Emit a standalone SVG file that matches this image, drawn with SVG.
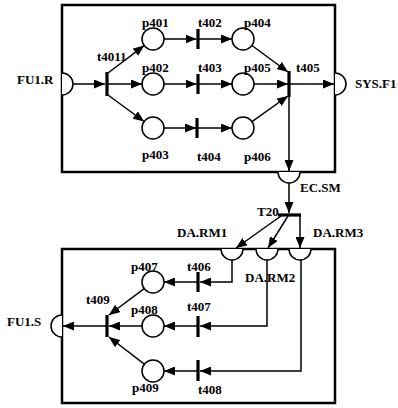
<svg xmlns="http://www.w3.org/2000/svg" width="398" height="408" viewBox="0 0 398 408">
<defs>
<marker id="ah" viewBox="0 0 10 10" refX="10" refY="5" markerWidth="11" markerHeight="9" markerUnits="userSpaceOnUse" orient="auto" preserveAspectRatio="none"><path d="M0,0 L10,5 L0,10 z" fill="#000"/></marker>
<style>
.box{fill:none;stroke:#000;stroke-width:2.5}
.pl{fill:#fff;stroke:#000;stroke-width:1.5}
.tr{stroke:#000;stroke-width:3.2;fill:none}
.port{fill:#fff;stroke:#000;stroke-width:1.5}
.c{fill:none;stroke:#000;stroke-width:1.5}
.a{marker-end:url(#ah)}
text{font-family:"Liberation Serif","Times New Roman",serif;font-weight:bold;font-size:13px;fill:#000}
</style>
</defs>
<rect width="398" height="408" fill="#fff"/>
<g id="boxes">
<rect class="box" x="62" y="5" width="273" height="167"/>
<rect class="box" x="62" y="249" width="273" height="154"/>
</g>
<g id="connectors">
<path class="c a" d="M73,84 L105,84"/>
<path class="c a" d="M108,73 L144.2,45.6"/>
<path class="c a" d="M108,84 L142,84"/>
<path class="c a" d="M108,95 L144.1,121.5"/>
<path class="c a" d="M164,39 L196.5,39"/>
<path class="c a" d="M199,39 L232,39"/>
<path class="c a" d="M164,84 L196.5,84"/>
<path class="c a" d="M199,84 L232,84"/>
<path class="c a" d="M164,128 L196,128"/>
<path class="c a" d="M198,128 L232,128"/>
<path class="c a" d="M251.9,45.5 L288,72"/>
<path class="c a" d="M254,84 L288,84"/>
<path class="c a" d="M252,121.6 L288,96"/>
<path class="c a" d="M290,84 L334,84"/>
<path class="c a" d="M289,96 L289,171"/>
<path class="c a" d="M289,183 L289,213"/>
<path class="c a" d="M281,216 L236,248"/>
<path class="c a" d="M288,216 L268,248"/>
<path class="c a" d="M300,215 L300,248"/>
<path class="c a" d="M232,260 L232,282 L200,282"/>
<path class="c a" d="M267,260 L267,326 L200,326"/>
<path class="c a" d="M301,260 L301,371 L200,371"/>
<path class="c a" d="M197,282 L164,282"/>
<path class="c a" d="M197,326 L164,326"/>
<path class="c a" d="M197,371 L164,371"/>
<path class="c a" d="M144.2,288.6 L109,315"/>
<path class="c a" d="M142,326 L109,326"/>
<path class="c a" d="M144.4,364.2 L109,337"/>
<path class="c a" d="M106,326 L63,326"/>
</g>
<g id="FU1.R"><path class="port" d="M62,73 A11,11 0 0 1 62,95"/><text x="17" y="84">FU1.R</text></g>
<g id="SYS.F1"><path class="port" d="M335,73 A11,11 0 0 1 335,95"/><text x="355" y="88">SYS.F1</text></g>
<g id="EC.SM"><path class="port" d="M278,172 A11,11 0 0 0 300,172"/><text x="300" y="192">EC.SM</text></g>
<g id="DA.RM1"><path class="port" d="M221,249 A11,11 0 0 0 243,249"/><text x="177" y="237">DA.RM1</text></g>
<g id="DA.RM2"><path class="port" d="M256,249 A11,11 0 0 0 278,249"/><text x="245" y="282">DA.RM2</text></g>
<g id="DA.RM3"><path class="port" d="M289,249 A11,11 0 0 0 311,249"/><text x="313" y="237">DA.RM3</text></g>
<g id="FU1.S"><path class="port" d="M62,315 A11,11 0 0 0 62,337"/><text x="7" y="326">FU1.S</text></g>
<g id="t4011"><line class="tr" x1="107" y1="72" x2="107" y2="96"/><text x="97" y="61">t4011</text></g>
<g id="p401"><circle class="pl" cx="153" cy="39" r="11"/><text x="142" y="27">p401</text></g>
<g id="p402"><circle class="pl" cx="153" cy="84" r="11"/><text x="142" y="72">p402</text></g>
<g id="p403"><circle class="pl" cx="153" cy="128" r="11"/><text x="142" y="159">p403</text></g>
<g id="t402"><line class="tr" x1="198" y1="29" x2="198" y2="49"/><text x="198" y="27">t402</text></g>
<g id="t403"><line class="tr" x1="198" y1="74" x2="198" y2="94"/><text x="198" y="72">t403</text></g>
<g id="t404"><line class="tr" x1="197" y1="118" x2="197" y2="138"/><text x="197" y="161">t404</text></g>
<g id="p404"><circle class="pl" cx="243" cy="39" r="11"/><text x="244" y="27">p404</text></g>
<g id="p405"><circle class="pl" cx="243" cy="84" r="11"/><text x="244" y="72">p405</text></g>
<g id="p406"><circle class="pl" cx="243" cy="128" r="11"/><text x="244" y="161">p406</text></g>
<g id="t405"><line class="tr" x1="289" y1="71" x2="289" y2="97"/><text x="296" y="72">t405</text></g>
<g id="T20"><line class="tr" x1="278" y1="215" x2="301" y2="215"/><text x="257" y="216">T20</text></g>
<g id="t406"><line class="tr" x1="198" y1="272" x2="198" y2="292"/><text x="187" y="271">t406</text></g>
<g id="t407"><line class="tr" x1="198" y1="316" x2="198" y2="337"/><text x="187" y="311">t407</text></g>
<g id="t408"><line class="tr" x1="198" y1="360" x2="198" y2="381"/><text x="198" y="394">t408</text></g>
<g id="p407"><circle class="pl" cx="153" cy="282" r="11"/><text x="131" y="271">p407</text></g>
<g id="p408"><circle class="pl" cx="153" cy="326" r="11"/><text x="131" y="314">p408</text></g>
<g id="p409"><circle class="pl" cx="153" cy="371" r="11"/><text x="132" y="392">p409</text></g>
<g id="t409"><line class="tr" x1="107" y1="315" x2="107" y2="337"/><text x="86" y="304">t409</text></g>
</svg>
